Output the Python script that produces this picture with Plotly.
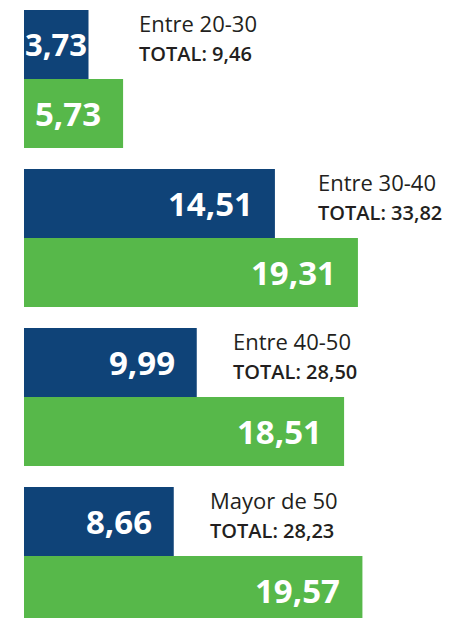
import plotly.graph_objects as go

# Datos
grupos = ["Entre 20-30", "Entre 30-40", "Entre 40-50", "Mayor de 50"]
serie_azul = [3.73, 14.51, 9.99, 8.66]
serie_verde = [5.73, 19.31, 18.51, 19.57]
totales = [9.46, 33.82, 28.50, 28.23]

AZUL = "#0F4378"
VERDE = "#57B84A"
TEXTO = "#231F20"
FUENTE = "Open Sans"


def fmt(v: float) -> str:
    return f"{v:.2f}".replace(".", ",")


fig = go.Figure()
fig.add_trace(go.Bar(y=grupos, x=serie_azul, orientation="h",
                     marker=dict(color=AZUL, line=dict(width=0)), hoverinfo="skip"))
fig.add_trace(go.Bar(y=grupos, x=serie_verde, orientation="h",
                     marker=dict(color=VERDE, line=dict(width=0)), hoverinfo="skip"))

# etiquetas de valor dentro de las barras (desplazadas a cada sub-barra)
# la primera barra azul es muy corta: texto algo menor y casi sin margen
desp_valor_azul = [0, -20, -20, -20]
tam_valor_azul = [31, 33, 33, 33]
for i, g in enumerate(grupos):
    fig.add_annotation(x=serie_azul[i], y=g, text=fmt(serie_azul[i]),
                       xanchor="right", yanchor="middle", xshift=desp_valor_azul[i], yshift=35,
                       showarrow=False,
                       font=dict(family=FUENTE, size=tam_valor_azul[i], color="white", weight="bold"))
    fig.add_annotation(x=serie_verde[i], y=g, text=fmt(serie_verde[i]),
                       xanchor="right", yanchor="middle", xshift=-20, yshift=-34,
                       showarrow=False,
                       font=dict(family=FUENTE, size=33, color="white", weight="bold"))

# rótulo del grupo y total a la derecha de la barra azul
desp_rotulo = [48, 41, 34, 34]
for i, g in enumerate(grupos):
    fig.add_annotation(x=serie_azul[i], y=g,
                       text=(f"{g}<br><span style='font-size:20px;font-weight:600'>"
                             f"TOTAL: {fmt(totales[i])}</span>"),
                       xanchor="left", yanchor="middle", align="left",
                       xshift=desp_rotulo[i], yshift=42, showarrow=False,
                       font=dict(family=FUENTE, size=22, color=TEXTO))

# la página tiene 8 px de margen, por eso 444x610
fig.update_layout(
    width=444, height=610,
    barmode="group", bargap=0.132, bargroupgap=0,
    showlegend=False,
    paper_bgcolor="white", plot_bgcolor="white",
    margin=dict(l=16, r=0, t=0, b=0),
    xaxis=dict(range=[0, 24.75], visible=False, showgrid=False, zeroline=False),
    yaxis=dict(type="category", categoryorder="array", categoryarray=grupos,
               range=[3.39, -0.447], visible=False, showgrid=False, zeroline=False),
)

fig.write_html("out.html")
